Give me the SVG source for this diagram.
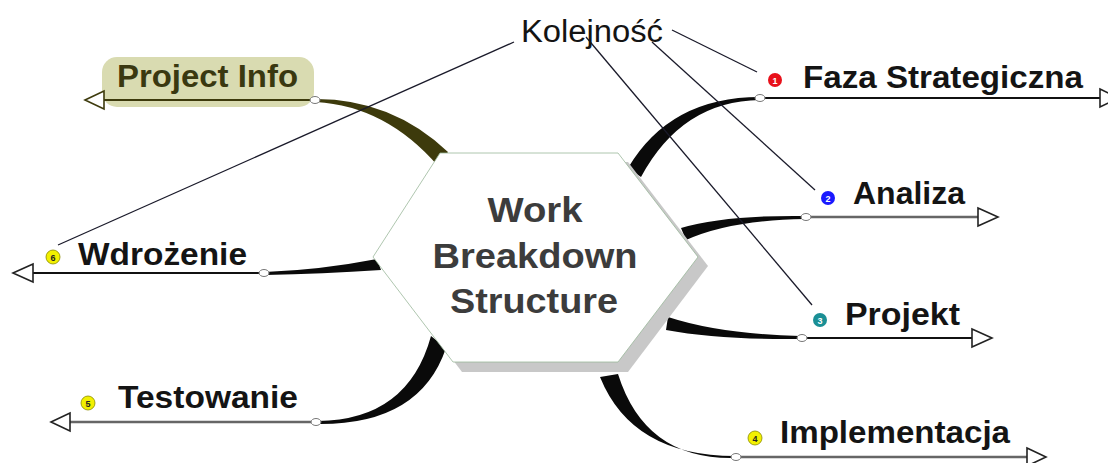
<svg xmlns="http://www.w3.org/2000/svg" width="1108" height="463" viewBox="0 0 1108 463">
<defs>
<style>
.lbl{font-family:"Liberation Sans",Arial,sans-serif;font-weight:bold;font-size:31px;fill:#141414}
.ctr{font-family:"Liberation Sans",Arial,sans-serif;font-weight:bold;font-size:35px;fill:#3c3c3c;text-anchor:middle}
.kol{font-family:"Liberation Sans",Arial,sans-serif;font-size:31px;fill:#141414}
.num{font-family:"Liberation Sans",Arial,sans-serif;font-weight:bold;font-size:9px;text-anchor:middle}
.br{fill:#0a0a0a}
.ul{stroke:#111;stroke-width:2;fill:none}
.ulg{stroke:#666;stroke-width:2.5;fill:none}
.arr{fill:#fff;stroke:#222;stroke-width:1.6;stroke-linejoin:miter}
.knob{fill:#fff;stroke:#777;stroke-width:1}
.rel{stroke:#1a1a2a;stroke-width:1.3;fill:none}
.yb{fill:#f2f000;stroke:#8a8a00;stroke-width:0.8}
</style>
</defs>
<rect width="1108" height="463" fill="#fff"/>

<g id="connectors">
  <path d="M316,99 Q392,99 448,152 L438,166 Q386,106 316,102 Z" fill="#3d3a0c"/>
  <path class="br" d="M760,97 Q670,97 628,168 L641,177 Q682,101 760,100 Z"/>
  <path class="br" d="M805,216 Q725,215 681,228 L686,240 Q730,220 805,219 Z"/>
  <path class="br" d="M668,317 Q720,334 800,336 L800,339 Q720,340 666,330 Z"/>
  <path class="br" d="M600,377 Q632,456 735,456 L735,458 Q645,460 618,374 Z"/>
  <path class="br" d="M318,421 Q408,420 431,336 L446,348 Q420,425 318,424 Z"/>
  <path class="br" d="M265,272 Q320,270 377,259 L381,270 Q322,274 265,275 Z"/>
  <line class="rel" x1="514" y1="42" x2="58" y2="245"/>
  <line class="rel" x1="672" y1="30" x2="757" y2="72"/>
  <line class="rel" x1="586" y1="37" x2="812" y2="305"/>
  <line class="rel" x1="652" y1="42" x2="815" y2="190"/>
</g>

<g id="center">
  <polygon points="381,265 448,162 628,162 708,266 628,372 462,372" fill="#c8c8c8"/>
  <polygon points="373,257 440,153 618,153 698,257 618,362 453,362" fill="#fff" stroke="#9ab89a" stroke-width="0.8"/>
  <text class="ctr" x="535" y="222" textLength="95" lengthAdjust="spacingAndGlyphs">Work</text>
  <text class="ctr" x="535" y="268" textLength="205" lengthAdjust="spacingAndGlyphs">Breakdown</text>
  <text class="ctr" x="534" y="313" textLength="168" lengthAdjust="spacingAndGlyphs">Structure</text>
</g>

<g id="kolejnosc">
  <text class="kol" x="521" y="42" textLength="142" lengthAdjust="spacingAndGlyphs">Kolejność</text>
</g>

<g id="project-info">
  <rect x="102" y="57" width="212" height="50" rx="15" fill="#d9dbb1"/>
  <text class="lbl" x="117" y="87" textLength="181" lengthAdjust="spacingAndGlyphs" style="fill:#3a3810">Project Info</text>
  <line x1="104" y1="100" x2="312" y2="100" stroke="#3d3a0c" stroke-width="2"/>
  <polygon points="85,100 104,91 104,109" fill="#fff" stroke="#3d3a0c" stroke-width="1.6"/>
  <ellipse class="knob" cx="315" cy="100" rx="5" ry="3.5"/>
</g>

<g id="faza">
  <circle cx="775" cy="80" r="7" fill="#e8101a"/>
  <text class="num" x="775" y="83.5" fill="#fff">1</text>
  <text class="lbl" x="803" y="88" textLength="280" lengthAdjust="spacingAndGlyphs">Faza Strategiczna</text>
  <line class="ul" x1="760" y1="98" x2="1100" y2="98"/>
  <polygon class="arr" points="1100,89 1119,98 1100,107"/>
  <ellipse class="knob" cx="760" cy="98" rx="5" ry="3.5"/>
</g>

<g id="analiza">
  <circle cx="828" cy="198" r="7" fill="#1a1aff"/>
  <text class="num" x="828" y="201.5" fill="#fff">2</text>
  <text class="lbl" x="853" y="204" textLength="112" lengthAdjust="spacingAndGlyphs">Analiza</text>
  <line class="ulg" x1="805" y1="217" x2="978" y2="217"/>
  <polygon class="arr" points="978,208 998,217 978,226"/>
  <ellipse class="knob" cx="806" cy="217" rx="5" ry="3.5"/>
</g>

<g id="projekt">
  <circle cx="820" cy="320" r="7" fill="#1a8f95"/>
  <text class="num" x="820" y="323.5" fill="#fff">3</text>
  <text class="lbl" x="845" y="325" textLength="115" lengthAdjust="spacingAndGlyphs">Projekt</text>
  <line class="ul" x1="802" y1="338" x2="972" y2="338"/>
  <polygon class="arr" points="972,329 992,338 972,347"/>
  <ellipse class="knob" cx="802" cy="338" rx="5" ry="3.5"/>
</g>

<g id="implementacja">
  <circle class="yb" cx="755" cy="438" r="7"/>
  <text class="num" x="755" y="441.5" fill="#222">4</text>
  <text class="lbl" x="780" y="443" textLength="230" lengthAdjust="spacingAndGlyphs">Implementacja</text>
  <line class="ulg" x1="735" y1="457" x2="1027" y2="457"/>
  <polygon class="arr" points="1027,448 1046,457 1027,466"/>
  <ellipse class="knob" cx="736" cy="457" rx="5" ry="3.5"/>
</g>

<g id="testowanie">
  <circle class="yb" cx="88" cy="403" r="7"/>
  <text class="num" x="88" y="406.5" fill="#222">5</text>
  <text class="lbl" x="118" y="408" textLength="180" lengthAdjust="spacingAndGlyphs">Testowanie</text>
  <line class="ulg" x1="70" y1="422" x2="315" y2="422"/>
  <polygon class="arr" points="51,422 70,413 70,431"/>
  <ellipse class="knob" cx="316" cy="422" rx="5" ry="3.5"/>
</g>

<g id="wdrozenie">
  <circle class="yb" cx="53" cy="257" r="7"/>
  <text class="num" x="53" y="260.5" fill="#222">6</text>
  <text class="lbl" x="78" y="265" textLength="169" lengthAdjust="spacingAndGlyphs">Wdrożenie</text>
  <line class="ul" x1="33" y1="273" x2="262" y2="273"/>
  <polygon class="arr" points="13,273 33,264 33,282"/>
  <ellipse class="knob" cx="264" cy="273" rx="5" ry="3.5"/>
</g>
</svg>
